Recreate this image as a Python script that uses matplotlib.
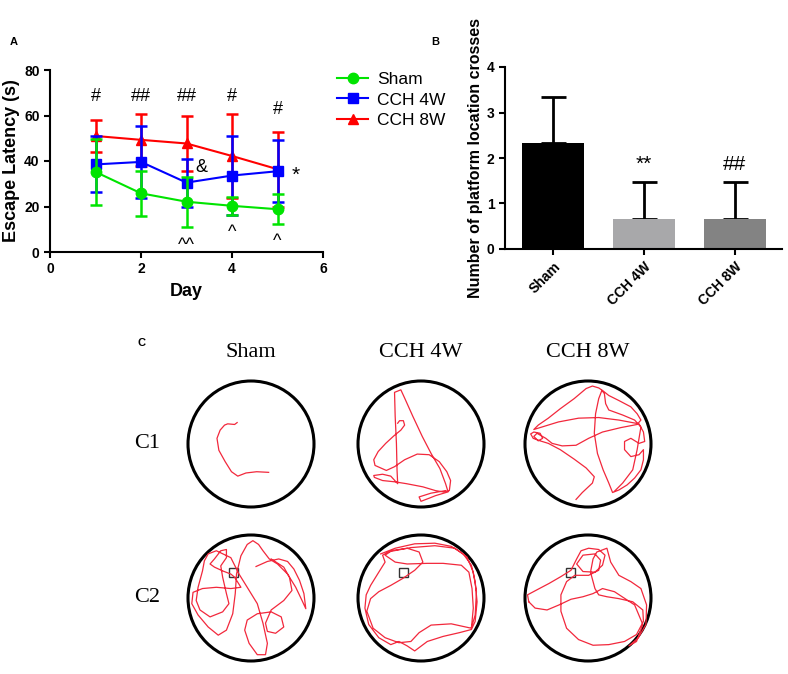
import numpy as np
import matplotlib
matplotlib.use("Agg")
import matplotlib.pyplot as plt
from matplotlib.lines import Line2D
from matplotlib.patches import Circle, Rectangle

plt.rcParams['font.family'] = ['Liberation Sans', 'DejaVu Sans']

# ---- panel A: escape latency ----
days = [1, 2, 3, 4, 5]
sham_mean = [35.2, 25.8, 22.1, 20.3, 18.8]
sham_sd = [14.5, 10.0, 11.0, 4.0, 6.5]
cch4_mean = [38.5, 39.6, 30.5, 33.6, 35.5]
cch4_sd = [12.3, 16.0, 10.5, 17.2, 13.7]
cch8_mean = [51.0, 49.3, 47.7, 42.2, 36.4]
cch8_sd = [7.0, 11.5, 12.0, 18.3, 16.5]
series_names = ['Sham', 'CCH 4W', 'CCH 8W']

# significance marks: (text, day, value)
marks_a = [('#', 1, 68.5), ('##', 2, 68.5), ('##', 3, 68.5), ('#', 4, 68.5),
           ('#', 5, 62.5), ('&', 3.33, 37), ('*', 5.4, 33.5),
           ('^^', 3, 3.0), ('^', 4, 8.5), ('^', 5, 4.5)]

# ---- panel B: platform crossings ----
groups = ['Sham', 'CCH 4W', 'CCH 8W']
crosses_mean = [2.33, 0.67, 0.67]
crosses_sd = [1.02, 0.80, 0.80]
marks_b = [('', 0, 0), ('**', 1, 1.85), ('##', 2, 1.85)]

# ---- panel C: swim tracks (pool radius = 1, y downwards) ----
track_sham_1 = [(-0.22, -0.34), (-0.26, -0.31), (-0.37, -0.32), (-0.42, -0.30),
                (-0.49, -0.22), (-0.54, -0.09), (-0.51, 0.10), (-0.41, 0.28),
                (-0.31, 0.44), (-0.21, 0.51), (-0.08, 0.46), (0.09, 0.44), (0.28, 0.45)]
track_cch4_1 = [(-0.37, -0.33), (-0.34, -0.37), (-0.28, -0.37), (-0.26, -0.30),
                (-0.32, -0.22), (-0.43, -0.13), (-0.56, -0.01), (-0.68, 0.12),
                (-0.75, 0.25), (-0.73, 0.34), (-0.55, 0.42), (-0.42, 0.36),
                (-0.26, 0.25), (-0.06, 0.16), (0.13, 0.17), (0.29, 0.28),
                (0.41, 0.44), (0.47, 0.58), (0.45, 0.74), (0.35, 0.76),
                (0.23, 0.74), (0.03, 0.68), (-0.23, 0.63), (-0.42, 0.60),
                (-0.61, 0.58), (-0.74, 0.53), (-0.75, 0.50), (-0.61, 0.48),
                (-0.48, 0.51), (-0.37, 0.63), (-0.38, 0.42), (-0.39, -0.01),
                (-0.41, -0.44), (-0.42, -0.82), (-0.32, -0.86), (-0.26, -0.73),
                (-0.13, -0.44), (0.02, -0.12), (0.16, 0.15), (0.30, 0.39),
                (0.39, 0.63), (0.43, 0.76), (0.23, 0.82), (0.13, 0.86),
                (0.00, 0.91), (-0.03, 0.84), (0.16, 0.78), (0.39, 0.74)]
track_cch8_1 = [(-0.19, 0.88), (-0.09, 0.77), (0.07, 0.62), (0.10, 0.52),
                (-0.03, 0.38), (-0.22, 0.24), (-0.44, 0.09), (-0.63, -0.01),
                (-0.76, -0.05), (-0.87, -0.09), (-0.91, -0.16), (-0.86, -0.19),
                (-0.76, -0.17), (-0.72, -0.09), (-0.79, -0.05), (-0.86, -0.12),
                (-0.81, -0.17), (-0.67, -0.09), (-0.57, -0.01), (-0.41, 0.03),
                (-0.19, 0.02), (0.01, -0.09), (0.23, -0.19), (0.52, -0.26),
                (0.78, -0.31), (0.84, -0.38), (0.78, -0.48), (0.68, -0.59),
                (0.49, -0.69), (0.33, -0.77), (0.23, -0.85), (0.17, -0.89),
                (0.07, -0.92), (-0.03, -0.88), (-0.22, -0.72), (-0.44, -0.56),
                (-0.63, -0.41), (-0.79, -0.30), (-0.86, -0.23), (-0.73, -0.27),
                (-0.47, -0.35), (-0.15, -0.41), (0.17, -0.42), (0.49, -0.38),
                (0.81, -0.32), (0.88, -0.19), (0.90, -0.04), (0.81, -0.01),
                (0.68, -0.09), (0.58, -0.04), (0.58, 0.09), (0.68, 0.20),
                (0.81, 0.17), (0.88, 0.09), (0.88, 0.25), (0.84, 0.41),
                (0.74, 0.54), (0.62, 0.65), (0.49, 0.73), (0.39, 0.77),
                (0.33, 0.62), (0.24, 0.41), (0.15, 0.15), (0.10, -0.17),
                (0.12, -0.48), (0.17, -0.72), (0.22, -0.85), (0.26, -0.80),
                (0.28, -0.64), (0.33, -0.54), (0.55, -0.46), (0.74, -0.38),
                (0.84, -0.27), (0.78, 0.09), (0.71, 0.41), (0.55, 0.62), (0.42, 0.75)]
track_sham_2 = [(0.08, -0.50), (0.26, -0.58), (0.44, -0.62), (0.58, -0.58),
                (0.68, -0.46), (0.77, -0.28), (0.84, -0.07), (0.87, 0.17),
                (0.81, 0.04), (0.71, -0.17), (0.58, -0.38), (0.42, -0.54),
                (0.29, -0.62), (0.19, -0.75), (0.12, -0.85), (0.03, -0.91),
                (-0.06, -0.85), (-0.16, -0.67), (-0.23, -0.38), (-0.25, -0.07),
                (-0.29, 0.25), (-0.39, 0.51), (-0.52, 0.59), (-0.68, 0.46),
                (-0.84, 0.27), (-0.94, 0.09), (-0.92, -0.09), (-0.77, -0.15),
                (-0.55, -0.17), (-0.32, -0.15), (-0.16, -0.17), (-0.26, -0.33),
                (-0.32, -0.38), (-0.45, -0.43), (-0.58, -0.49), (-0.65, -0.54),
                (-0.58, -0.62), (-0.48, -0.75), (-0.39, -0.77), (-0.39, -0.64),
                (-0.48, -0.51), (-0.45, -0.33), (-0.39, -0.07), (-0.35, 0.09),
                (-0.45, 0.22), (-0.65, 0.30), (-0.81, 0.19), (-0.87, 0.04),
                (-0.84, -0.17), (-0.77, -0.43), (-0.74, -0.59), (-0.68, -0.70),
                (-0.55, -0.75), (-0.32, -0.64), (-0.19, -0.38), (-0.06, -0.17),
                (0.10, 0.09), (0.19, 0.40), (0.26, 0.72), (0.23, 0.90),
                (0.10, 0.90), (-0.03, 0.72), (-0.10, 0.51), (-0.06, 0.35),
                (0.10, 0.25), (0.32, 0.22), (0.48, 0.30), (0.52, 0.46),
                (0.39, 0.56), (0.26, 0.53), (0.23, 0.40), (0.32, 0.19),
                (0.52, 0.04), (0.65, -0.12), (0.61, -0.33), (0.52, -0.49), (0.32, -0.62)]
track_cch4_2 = [(-0.64, -0.70), (-0.41, -0.79), (-0.10, -0.86), (0.22, -0.87),
                (0.48, -0.82), (0.67, -0.70), (0.80, -0.52), (0.86, -0.26),
                (0.89, 0.06), (0.86, 0.37), (0.80, 0.50), (0.61, 0.55),
                (0.35, 0.61), (0.10, 0.69), (-0.10, 0.84), (-0.22, 0.76),
                (-0.35, 0.69), (-0.48, 0.74), (-0.67, 0.63), (-0.83, 0.42),
                (-0.89, 0.16), (-0.87, -0.05), (-0.80, -0.20), (-0.67, -0.41),
                (-0.57, -0.57), (-0.61, -0.68), (-0.48, -0.75), (-0.22, -0.79),
                (-0.03, -0.73), (0.03, -0.57), (-0.10, -0.44), (-0.29, -0.31),
                (-0.48, -0.20), (-0.67, -0.10), (-0.80, 0.01), (-0.86, 0.21),
                (-0.76, 0.48), (-0.57, 0.63), (-0.35, 0.71), (-0.16, 0.69),
                (-0.03, 0.55), (0.16, 0.43), (0.48, 0.41), (0.80, 0.48),
                (0.83, 0.16), (0.81, -0.15), (0.76, -0.41), (0.64, -0.52),
                (0.35, -0.55), (0.10, -0.55), (-0.22, -0.54), (-0.41, -0.57),
                (-0.57, -0.68), (-0.48, -0.74), (-0.16, -0.80), (0.22, -0.83),
                (0.54, -0.79), (0.73, -0.65), (0.83, -0.41), (0.88, -0.10),
                (0.86, 0.27), (0.80, 0.47)]
track_cch8_2 = [(-0.94, 0.06), (-0.96, -0.05), (-0.81, -0.13), (-0.62, -0.23),
                (-0.43, -0.34), (-0.27, -0.44), (-0.18, -0.62), (-0.11, -0.75),
                (0.01, -0.79), (0.17, -0.77), (0.27, -0.68), (0.23, -0.52),
                (0.11, -0.41), (-0.08, -0.42), (-0.18, -0.54), (-0.08, -0.68),
                (0.11, -0.70), (0.20, -0.60), (0.17, -0.44), (0.01, -0.36),
                (-0.21, -0.36), (-0.34, -0.26), (-0.43, -0.05), (-0.43, 0.21),
                (-0.34, 0.48), (-0.15, 0.66), (0.08, 0.75), (0.33, 0.74),
                (0.58, 0.69), (0.77, 0.58), (0.88, 0.37), (0.87, 0.19),
                (0.71, 0.06), (0.49, 0.01), (0.30, -0.02), (0.17, -0.05),
                (0.11, -0.15), (0.04, -0.41), (0.08, -0.62), (0.14, -0.73),
                (0.30, -0.79), (0.36, -0.57), (0.49, -0.36), (0.68, -0.26),
                (0.84, -0.15), (0.93, 0.11), (0.92, 0.42), (0.80, 0.63),
                (0.65, 0.76), (0.77, 0.69), (0.87, 0.42), (0.74, 0.11),
                (0.42, -0.10), (0.23, -0.15), (0.08, -0.07), (-0.08, -0.02),
                (-0.27, 0.02), (-0.46, 0.11), (-0.65, 0.19), (-0.84, 0.16), (-0.94, 0.06)]
platform = (-0.28, -0.41)

tracks = [[track_sham_1, track_cch4_1, track_cch8_1],
          [track_sham_2, track_cch4_2, track_cch8_2]]
row_names = ['C1', 'C2']

W, H = 788, 674
fig = plt.figure(figsize=(W / 100, H / 100), dpi=100)


def px_rect(x0, y0, x1, y1):
    return [x0 / W, 1 - y1 / H, (x1 - x0) / W, (y1 - y0) / H]


def style_axes(ax):
    for side in ['top', 'right']:
        ax.spines[side].set_visible(False)
    for side in ['left', 'bottom']:
        ax.spines[side].set_linewidth(1.5)
    ax.tick_params(width=1.5, length=4, labelsize=10)
    for lab in ax.get_xticklabels() + ax.get_yticklabels():
        lab.set_fontweight('bold')


# ---------- A ----------
ax_a = fig.add_axes(px_rect(50, 70, 323, 252))
colors = ['#00e400', '#0000ff', '#ff0000']
markers = ['o', 's', '^']
sizes = [7.5, 7.5, 7]
data = [(sham_mean, sham_sd), (cch4_mean, cch4_sd), (cch8_mean, cch8_sd)]
for i in [2, 1, 0]:
    m, s = data[i]
    ax_a.errorbar(days, m, yerr=s, color=colors[i], marker=markers[i],
                  ms=sizes[i], lw=1.5, elinewidth=1.8, capsize=4, capthick=1.8,
                  zorder=3 + (2 - i))
ax_a.set_xlim(0, 6)
ax_a.set_ylim(0, 80)
ax_a.set_xticks([0, 2, 4, 6])
ax_a.set_yticks([0, 20, 40, 60, 80])
style_axes(ax_a)
ax_a.set_ylabel('Escape Latency (s)', fontsize=13, fontweight='bold', labelpad=3)
ax_a.set_xlabel('Day', fontsize=13, fontweight='bold', labelpad=5)
for txt, x, y in marks_a:
    fs = 15 if txt.startswith('*') else 13
    ax_a.text(x, y, txt, ha='center', va='center', fontsize=fs)

handles = [Line2D([], [], color=colors[i], marker=markers[i], ms=sizes[i], lw=1.5)
           for i in range(3)]
fig.legend(handles, series_names, loc='upper left', bbox_to_anchor=(337 / W, 1 - 72 / H),
           frameon=False, fontsize=12.5, handlelength=1.8, handletextpad=0.5,
           labelspacing=0.3, borderaxespad=0, borderpad=0)
fig.text(10 / W, 1 - 42 / H, 'A', fontsize=8, fontweight='bold', va='center')

# ---------- B ----------
ax_b = fig.add_axes(px_rect(505, 67, 782, 249))
xpos = np.arange(len(groups))
ax_b.bar(xpos, crosses_mean, width=0.68, color=['#000000', '#a8a8aa', '#838383'],
         zorder=2)
ax_b.errorbar(xpos, crosses_mean, yerr=[np.zeros(3), crosses_sd], fmt='none',
              ecolor='black', elinewidth=2, capsize=9, capthick=2, zorder=1)
ax_b.set_xlim(-0.53, 2.52)
ax_b.set_ylim(0, 4)
ax_b.set_xticks(xpos)
ax_b.set_xticklabels(groups, rotation=45, ha='right', va='top',
                     rotation_mode='anchor', fontsize=8.5)
ax_b.set_yticks([0, 1, 2, 3, 4])
style_axes(ax_b)
ax_b.set_ylabel('Number of platform location crosses', fontsize=11.5,
                fontweight='bold', labelpad=3)
for txt, x, y in marks_b:
    if txt:
        ax_b.text(x, y, txt, ha='center', va='center', fontsize=15)
fig.text(431 / W, 1 - 42 / H, 'B', fontsize=8, fontweight='bold', va='center')

# ---------- C ----------
col_x = [251, 421, 588]
row_y = [444, 598]
r_px = 63
half = 68
lim = half / r_px
fig.text(146 / W, 1 - 343 / H, 'C', fontsize=8, fontweight='bold', ha='right',
         va='center')
for j, name in enumerate(groups):
    fig.text(col_x[j] / W, 1 - 352 / H, name, family='Liberation Serif',
             fontsize=16, ha='center', va='center')
for i, rname in enumerate(row_names):
    fig.text(160 / W, 1 - row_y[i] / H, rname, family='Liberation Serif',
             fontsize=16, ha='right', va='center')
    for j in range(3):
        cx, cy = col_x[j], row_y[i]
        ax = fig.add_axes(px_rect(cx - half, cy - half, cx + half, cy + half))
        ax.set_xlim(-lim, lim)
        ax.set_ylim(lim, -lim)
        ax.axis('off')
        ax.add_patch(Circle((0, 0), 1, fill=False, ec='black', lw=2.2))
        pts = np.array(tracks[i][j])
        ax.plot(pts[:, 0], pts[:, 1], color='#f2283c', lw=0.9)
        if i == 1:
            ax.add_patch(Rectangle((platform[0] - 0.07, platform[1] - 0.07), 0.14, 0.14,
                                   fill=False, ec='#333333', lw=1))

fig.savefig('out.png', dpi=100)
